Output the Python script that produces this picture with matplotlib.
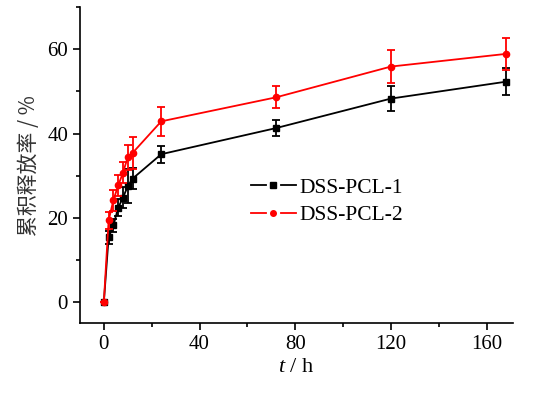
import matplotlib
matplotlib.use("Agg")
import matplotlib.pyplot as plt
from matplotlib.ticker import MultipleLocator
from matplotlib.lines import Line2D
from matplotlib.legend_handler import HandlerTuple

plt.rcParams['font.family'] = ['Liberation Serif', 'DejaVu Serif']
plt.rcParams['mathtext.fontset'] = 'custom'
plt.rcParams['mathtext.rm'] = 'Liberation Serif'
plt.rcParams['mathtext.it'] = 'Liberation Serif:italic'

t = [0, 2, 4, 6, 8, 10, 12, 24, 72, 120, 168]
pcl1 = [0, 15.4, 18.2, 22.4, 24.8, 27.5, 29.3, 35.1, 41.3, 48.3, 52.3]
pcl1_err = [0, 1.5, 1.5, 2.0, 2.5, 4.0, 2.5, 2.0, 1.9, 2.9, 3.2]
pcl2 = [0, 19.4, 24.2, 27.7, 30.7, 34.4, 35.4, 42.9, 48.6, 55.9, 58.9]
pcl2_err = [0, 2.0, 2.5, 2.5, 2.5, 3.0, 3.9, 3.5, 2.6, 3.9, 3.7]
labels = ['DSS-PCL-1', 'DSS-PCL-2']

fig = plt.figure(figsize=(5.4, 3.97), dpi=100)
ax = fig.add_axes([0.148, 0.186, 0.802, 0.796])

ax.errorbar(t, pcl1, yerr=pcl1_err, color='black', marker='s', markersize=4.5,
            lw=1.3, capsize=3, elinewidth=1.3, capthick=1.3, zorder=2)
ax.errorbar(t, pcl2, yerr=pcl2_err, color='red', marker='o', markersize=4.5,
            lw=1.3, capsize=3, elinewidth=1.3, capthick=1.3, zorder=3)

ax.set_xlim(-10, 171)
ax.set_ylim(-5, 70)
ax.xaxis.set_major_locator(MultipleLocator(40))
ax.xaxis.set_minor_locator(MultipleLocator(20))
ax.yaxis.set_major_locator(MultipleLocator(20))
ax.yaxis.set_minor_locator(MultipleLocator(10))
for s in ['top', 'right']:
    ax.spines[s].set_visible(False)
for s in ['left', 'bottom']:
    ax.spines[s].set_linewidth(1.2)
ax.tick_params(which='major', direction='out', length=5, width=1.2, labelsize=15)
ax.tick_params(which='minor', direction='out', length=3, width=1.2)

ax.set_xlabel(r'$\it{t}$ / h', fontsize=16, labelpad=3)
ax.set_ylabel('累积释放率 / %', fontsize=15, color='#333333',
              family=['Noto Sans CJK SC', 'DejaVu Sans'], labelpad=5)

# legend handles: line - marker - line, no error bars
def seg(c):
    return Line2D([], [], color=c, lw=1.3)

def mk(c, m):
    return Line2D([], [], color=c, lw=0, marker=m, markersize=4)

handles = [
    (seg('black'), mk('black', 's'), seg('black')),
    (seg('red'), mk('red', 'o'), seg('red')),
]
ax.legend(handles, labels, loc='center left', bbox_to_anchor=(0.395, 0.385),
          frameon=False, fontsize=15.5, handlelength=2.09, handletextpad=0.15,
          labelspacing=0.35, borderpad=0, borderaxespad=0,
          handler_map={tuple: HandlerTuple(ndivide=None, pad=0)})

fig.savefig('out.png', dpi=100)
